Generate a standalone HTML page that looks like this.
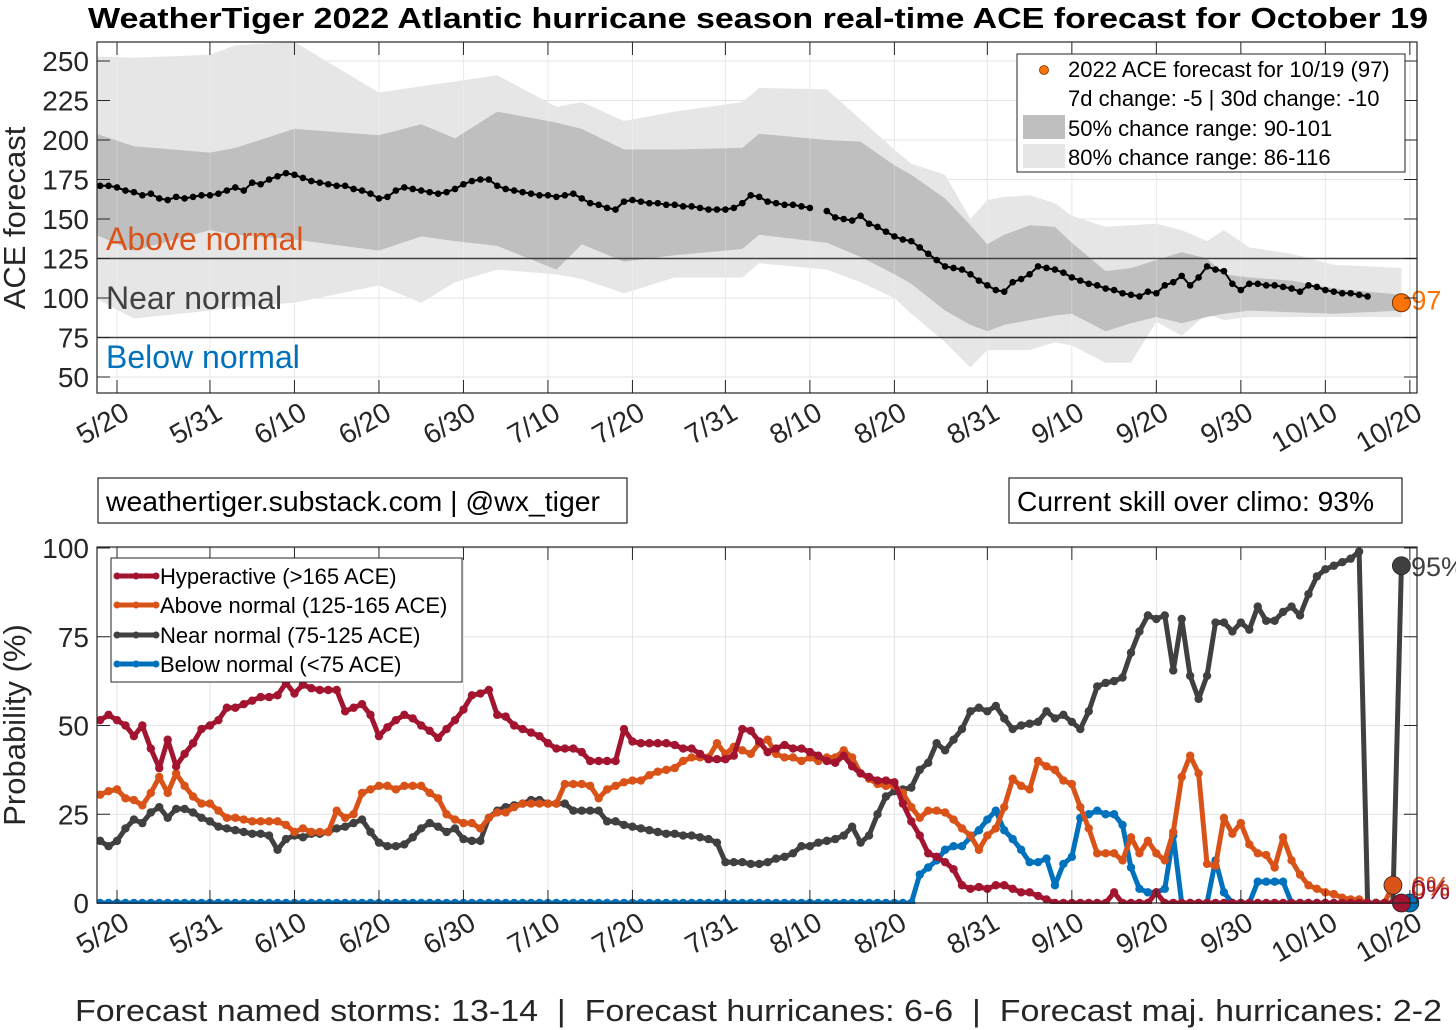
<!DOCTYPE html>
<html><head><meta charset="utf-8">
<style>
html,body{margin:0;padding:0;background:#fff;}
svg{display:block;font-family:"Liberation Sans",Arial,sans-serif;}
</style></head>
<body>
<svg id="chart" width="1456" height="1030" viewBox="0 0 1456 1030" xmlns="http://www.w3.org/2000/svg">
<defs>
<clipPath id="clipTop"><rect x="97" y="42" width="1320" height="351"/></clipPath>
<clipPath id="clipBot"><rect x="97" y="546" width="1320" height="358"/></clipPath>
</defs>
<rect x="0" y="0" width="1456" height="1030" fill="#fff"/>
<text x="88" y="28" font-size="29" font-weight="bold" textLength="1340" lengthAdjust="spacingAndGlyphs">WeatherTiger 2022 Atlantic hurricane season real-time ACE forecast for October 19</text>
<g id="topPanel"></g>
<g id="botPanel"></g>
<g>
<rect x="98" y="478" width="529" height="45" fill="#fff" stroke="#262626" stroke-width="1.2"/>
<text x="106" y="511" font-size="28" textLength="494" lengthAdjust="spacingAndGlyphs">weathertiger.substack.com | @wx_tiger</text>
</g>
<g>
<rect x="1009" y="478" width="393" height="45" fill="#fff" stroke="#262626" stroke-width="1.2"/>
<text x="1017" y="511" font-size="28" textLength="357" lengthAdjust="spacingAndGlyphs">Current skill over climo: 93%</text>
</g>
<text x="75" y="1021" font-size="31" fill="#262626" textLength="1367" lengthAdjust="spacingAndGlyphs" xml:space="preserve">Forecast named storms: 13-14  |  Forecast hurricanes: 6-6  |  Forecast maj. hurricanes: 2-2</text>
</svg>
<script>
// ---- data ----
const tickLabels = ["5/20","5/31","6/10","6/20","6/30","7/10","7/20","7/31","8/10","8/20","8/31","9/10","9/20","9/30","10/10","10/20"];
const tickDays = [0,11,21,31,41,51,61,72,82,92,103,113,123,133,143,153];
const aceTicks = [50,75,100,125,150,175,200,225,250];
const probTicks = [0,25,50,75,100];
const startDay = -2;
const aceMean = [171,171,170,168,167,165,166,163,162,164,163,164,165,165,166,168,170,168,173,172,175,177,179,178,176,174,173,172,171,171,169,168,166,163,164,168,170,169,168,167,166,167,169,172,174,175,175,171,169,168,167,166,165,165,164,165,166,163,160,159,157,156,161,162,161,160,160,159,159,158,158,157,156,156,156,157,160,165,164,161,160,159,159,158,157,null,155,151,150,149,152,147,145,142,139,137,136,132,128,124,120,119,118,115,111,108,105,104,110,112,115,120,119,118,116,113,111,109,108,106,105,103,102,101,104,103,108,110,114,108,113,120,118,117,109,105,109,109,108,108,107,106,104,108,107,105,104,103,103,102,101];
const bandDays = [-3,2,11,14,21,31,36,40,45,52,55,60,66,74,76,84,88,92,94,98,101,103,105,108,111,113,117,120,123,126,129,131,134,139,144,152];
const band80Upper = [253,252,254,260,262,230,234,237,241,221,224,212,218,224,233,232,213,194,185,178,150,162,164,165,160,152,145,146,147,143,136,143,132,128,121,119];
const band50Upper = [205,196,192,195,207,203,210,201,218,211,207,194,194,195,204,200,199,184,178,163,146,134,140,146,145,135,117,119,124,129,125,115,113,111,106,102];
const band50Lower = [141,130,143,140,137,130,139,136,133,118,134,123,127,131,140,135,126,115,109,92,83,79,83,86,89,90,79,84,88,84,88,90,92,91,90,92];
const band80Lower = [101,87,92,94,97,108,97,110,118,115,112,103,113,113,122,118,110,100,90,72,56,67,67,67,72,70,59,59,85,76,90,86,88,88,88,88];
const aceCurrent = 97, aceCurrentDay = 152;
const pHyper = [51.5,53,51.5,50,47,50,43.5,38,46,38.5,42,45,49,50,51.5,55,55,56,57,58,58,58.5,62,59,61.5,60.5,60,60,60,54,55,56,53,47,49.5,51.5,53,52,50,48.5,46.5,49,51.5,54.5,58.5,59,60,53,52.5,50,49,48,47,45,43.5,43.5,43.5,42.5,40,40,40,40,49,45.5,45,45,45,45,44.5,43.5,43.5,42,40.5,40.5,40.5,41.5,49,48.5,45.5,42.5,43.5,44.5,43.5,43.5,42.5,41.5,40,39.5,41.5,38.5,36.5,35.5,34.5,34.5,34,28,23,19,14,13,11.5,9.5,5,4,4.5,4,5,5,4,3,3,2,1,0,0,0,0,0,0,0,3,0,0,0,0,3,0,0,0,0,0,0,0,0,0,0,0,0,0,0,0,0,0,0,0,0,0,0,0,0,0,0,0,0,0];
const pAbove = [30.5,31.5,32,29.5,29,27.5,31,35.5,31,36.5,33,30,28,28,26,24,24,23.5,23,23,23,23,22,20,21,20,20,20,26,24,25,31,32,33,33,32,33,33,33,31,29.5,25,23.5,22.5,22.5,21,24,25.5,25.5,27,28,28,28,28,28,33.5,33.5,33.5,33,29.5,32,33,34,34.5,34.5,36,37,37.5,38,40,41,41,41,45,42,44,43,42,45,46,42,41,41,40,41,40,41,41,43,41,36.5,35,33.5,33,33,31,27,24,26,26,25.5,23.5,21,19,15,19,21,27,35,33,32,40,38.5,37.5,34.5,33.5,27,21,14,14,14,12,18.5,14,17.5,14,12,20,35.5,41.5,36.5,11,10.5,24,19.5,22.5,16.5,14,13.5,10,18.5,12,8,5,4,3,2.5,1.5,1,1,0,0,0,5];
const pNear = [17.5,16,17.5,21,23.5,22.5,25.5,27,24,26.5,26.5,25.5,24,23,21.5,21,20.5,20,19.5,19.5,19,15,18,19,18.5,19.5,19.5,20,21,21.5,22.5,23.5,20,17,16,16,16.5,18.5,21,22.5,21.5,20,21,18,17.5,17.5,24,26,27,27.5,28,29,29,28,28,28,26,26,26,26,23,23,22,21.5,21,20.5,20,19.5,19.5,19,19,18.5,18,17,11.5,11.5,11.5,11,11,11.5,12.5,13,14,16,16,17,17.5,18,19,21.5,17,19,25,30,31.5,32,32.5,37.5,39.5,45,43,46,49,54,55,54,55.5,52,49,50,50.5,51,54,52,53,51,49,54,61,62,62.5,63.5,70.5,76.5,81,80,81,65.5,80,64,57.5,64,79,79,76.5,79,77,83.5,79.5,79.5,82,83.5,81,87,92,94,95,96,97,99,0,0,0,0,95];
const pBelow = [0,0,0,0,0,0,0,0,0,0,0,0,0,0,0,0,0,0,0,0,0,0,0,0,0,0,0,0,0,0,0,0,0,0,0,0,0,0,0,0,0,0,0,0,0,0,0,0,0,0,0,0,0,0,0,0,0,0,0,0,0,0,0,0,0,0,0,0,0,0,0,0,0,0,0,0,0,0,0,0,0,0,0,0,0,0,0,0,0,0,0,0,0,0,0,0,0,8,10,12,15,16,16,18.5,20.5,23.5,26,20.5,18,15,11.5,11.5,12.5,5,11,13,24,25,26,25,25,22,10,4,3,3,4,19,0,0,0,0,12,3,0,0,0,6,6,6,6,0,0,0,0,0,0,0,0,0,0,0,0,0,0,0];
const endLabels = ["95%","6%","0%","0%"];

// ---- scales ----
const xDay = d => 117 + 8.45*d;
const yAce = v => 377 - (v-50)*1.58;
const yProb = p => 903 - p*3.55;
const NS = "http://www.w3.org/2000/svg";
function mk(tag, attrs, parent){const e=document.createElementNS(NS,tag);for(const k in attrs)e.setAttribute(k,attrs[k]);parent.appendChild(e);return e;}
const topG = document.getElementById('topPanel'), botG = document.getElementById('botPanel');

function axesFrame(g, yTop, yBot, yTicks, yFn){
  const grid = mk('g',{},g);
  
  
  tickDays.forEach(d=>{mk('line',{x1:xDay(d),x2:xDay(d),y1:yTop,y2:yBot,stroke:'#e3e3e3','stroke-width':1},grid);});
  yTicks.forEach(v=>{mk('line',{x1:97,x2:1417,y1:yFn(v),y2:yFn(v),stroke:'#e3e3e3','stroke-width':1},grid);});
}
function axesTicks(g, yTop, yBot, yTicks, yFn, labY){
  mk('rect',{x:97,y:yTop,width:1320,height:yBot-yTop,fill:'none',stroke:'#262626','stroke-width':1.2},g);
  tickDays.forEach((d,i)=>{
    const x=xDay(d);
    mk('line',{x1:x,x2:x,y1:yBot,y2:yBot-13,stroke:'#262626','stroke-width':1},g);
    mk('line',{x1:x,x2:x,y1:yTop,y2:yTop+13,stroke:'#262626','stroke-width':1},g);
    const t=mk('text',{x:x+14,y:labY,'text-anchor':'end','font-size':28,fill:'#262626',transform:`rotate(-30 ${x+14} ${labY})`},g);
    
    
    t.textContent=tickLabels[i];
  });
  yTicks.forEach(v=>{
    const y=yFn(v);
    mk('line',{x1:97,x2:110,y1:y,y2:y,stroke:'#262626','stroke-width':1},g);
    mk('line',{x1:1417,x2:1404,y1:y,y2:y,stroke:'#262626','stroke-width':1},g);
    const t=mk('text',{x:89,y:y+10,'text-anchor':'end','font-size':28,fill:'#262626'},g);
    
    
    t.textContent=v;
  });
}

// ===== TOP =====
axesFrame(topG,42,393,aceTicks,yAce);
const bandG = mk('g',{'clip-path':'url(#clipTop)'},topG);
function bandPath(up, lo){
  let s='';
  bandDays.forEach((d,i)=>{s+=(i?'L':'M')+xDay(d).toFixed(1)+','+yAce(up[i]).toFixed(1);});
  for(let i=bandDays.length-1;i>=0;i--){s+='L'+xDay(bandDays[i]).toFixed(1)+','+yAce(lo[i]).toFixed(1);}
  return s+'Z';
}
const b80 = mk('path',{d:bandPath(band80Upper,band80Lower),fill:'#e6e6e6'},bandG);


const b50 = mk('path',{d:bandPath(band50Upper,band50Lower),fill:'#bfbfbf'},bandG);


tickDays.forEach(d=>{mk('line',{x1:xDay(d),x2:xDay(d),y1:42,y2:393,stroke:'#fff','stroke-opacity':0.25,'stroke-width':1},bandG);});
[75,125].forEach(v=>{const l=mk('line',{x1:97,x2:1417,y1:yAce(v),y2:yAce(v),stroke:'#404040','stroke-width':1.6},topG);
  
  });
const meanG = mk('g',{},topG);


let seg='';
aceMean.forEach((v,i)=>{ if(v===null){return;} const x=xDay(startDay+i), y=yAce(v); const prev=i>0?aceMean[i-1]:null; seg+=(prev===null?'M':'L')+x.toFixed(1)+','+y.toFixed(1);});
mk('path',{d:seg,fill:'none',stroke:'#000','stroke-width':2},meanG);
aceMean.forEach((v,i)=>{ if(v===null)return; const c=mk('circle',{cx:xDay(startDay+i),cy:yAce(v),r:3.3,fill:'#000'},meanG);
  
  });
const cur = mk('circle',{cx:xDay(aceCurrentDay),cy:yAce(aceCurrent),r:9,fill:'#f97306',stroke:'#7a3000','stroke-width':1},topG);


const curT = mk('text',{x:xDay(aceCurrentDay)+10,y:yAce(aceCurrent)+7,'font-size':27,fill:'#f97306'},topG);


curT.textContent=aceCurrent;
axesTicks(topG,42,393,aceTicks,yAce,418);
[["Above normal",250,"#d95319"],["Near normal",309,"#404040"],["Below normal",368,"#0072bd"]].forEach(a=>{
  const t=mk('text',{x:106,y:a[1],'font-size':32,fill:a[2]},topG);
  
  
  t.textContent=a[0];});
const ylt = mk('text',{x:25,y:218,'text-anchor':'middle','font-size':31,fill:'#262626',transform:'rotate(-90 25 218)'},topG);


ylt.textContent='ACE forecast';
const lg = mk('g',{},topG);


mk('rect',{x:1017,y:54,width:388,height:118,fill:'#fff',stroke:'#262626','stroke-width':1},lg);
mk('circle',{cx:1044,cy:70,r:4.5,fill:'#f97306',stroke:'#7a3000','stroke-width':0.8},lg);
mk('rect',{x:1023,y:115,width:42,height:24,fill:'#bfbfbf'},lg);
mk('rect',{x:1023,y:144,width:42,height:24,fill:'#e6e6e6'},lg);
[["2022 ACE forecast for 10/19 (97)",77],["7d change: -5 | 30d change: -10",106],["50% chance range: 90-101",136],["80% chance range: 86-116",165]].forEach(a=>{
  const t=mk('text',{x:1068,y:a[1],'font-size':22,fill:'#000'},lg);
  
  
  t.textContent=a[0];});

// ===== BOTTOM =====
axesFrame(botG,547,903,probTicks,yProb);
const serG = mk('g',{'clip-path':'url(#clipBot)'},botG);
const series = [[pBelow,'#0072bd','below-normal-series'],[pNear,'#404040','near-normal-series'],[pAbove,'#d95319','above-normal-series'],[pHyper,'#a2142f','hyperactive-series']];
series.forEach(s=>{
  const g=mk('g',{},serG);
  
  
  let p='';
  s[0].forEach((v,i)=>{p+=(i?'L':'M')+xDay(startDay+i).toFixed(1)+','+yProb(v).toFixed(1);});
  mk('path',{d:p,fill:'none',stroke:s[1],'stroke-width':5,'stroke-linejoin':'round'},g);
  s[0].forEach((v,i)=>{const c=mk('circle',{cx:xDay(startDay+i),cy:yProb(v),r:4.2,fill:s[1]},g);
    
    });
});
series.forEach(s=>{
  const v=s[0][s[0].length-1];
  const c=mk('circle',{cx:xDay(startDay+s[0].length-1),cy:yProb(v),r:9,fill:s[1],stroke:'#222','stroke-width':0.8},botG);
  
  
});
[[pNear,'#404040',endLabels[0],0],[pBelow,'#0072bd',endLabels[3],-14],[pAbove,'#d95319',endLabels[1],0],[pHyper,'#a2142f',endLabels[2],-14]].forEach(a=>{
  const v=a[0][a[0].length-1];
  const t=mk('text',{x:1411,y:yProb(v)+10+a[3],'font-size':27,fill:a[1]},botG);
  
  
  t.textContent=a[2];
});
axesTicks(botG,547,903,probTicks,yProb,928);
const ylb = mk('text',{x:25,y:725,'text-anchor':'middle','font-size':31,fill:'#262626',transform:'rotate(-90 25 725)'},botG);


ylb.textContent='Probability (%)';
const lg2 = mk('g',{},botG);


mk('rect',{x:111,y:558,width:351,height:124,fill:'#fff',stroke:'#262626','stroke-width':1},lg2);
[["Hyperactive (>165 ACE)",'#a2142f',576],["Above normal (125-165 ACE)",'#d95319',605],["Near normal (75-125 ACE)",'#404040',635],["Below normal (<75 ACE)",'#0072bd',664]].forEach(a=>{
  mk('line',{x1:116,x2:157,y1:a[2],y2:a[2],stroke:a[1],'stroke-width':5},lg2);
  mk('circle',{cx:117,cy:a[2],r:3.5,fill:a[1]},lg2);
  mk('circle',{cx:136,cy:a[2],r:3.5,fill:a[1]},lg2);
  mk('circle',{cx:156,cy:a[2],r:3.5,fill:a[1]},lg2);
  const t=mk('text',{x:160,y:a[2]+8,'font-size':22,fill:'#000'},lg2);
  
  
  t.textContent=a[0];
});
</script>
</body></html>
